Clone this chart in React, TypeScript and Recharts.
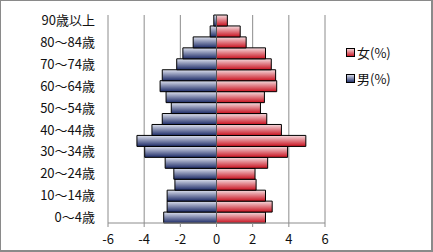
import { Bar, BarChart, CartesianGrid, ReferenceLine, XAxis, YAxis } from "recharts";

// 年齢階級別の人口構成（%）

const ageGroups = [
  "0～4歳", "5～9歳", "10～14歳", "15～19歳", "20～24歳", "25～29歳", "30～34歳",
  "35～39歳", "40～44歳", "45～49歳", "50～54歳", "55～59歳", "60～64歳", "65～69歳",
  "70～74歳", "75～79歳", "80～84歳", "85～89歳", "90歳以上",
];

// 男はマイナス側に描く
const male = [
  -2.92, -2.73, -2.73, -2.3, -2.36, -2.84, -3.97, -4.4, -3.57, -3.0,
  -2.5, -2.79, -3.12, -3.0, -2.2, -1.86, -1.29, -0.35, -0.15,
];

const female = [
  2.71, 3.08, 2.71, 2.19, 2.13, 2.83, 3.93, 4.94, 3.59, 2.78,
  2.43, 2.65, 3.33, 3.27, 3.03, 2.71, 1.64, 1.31, 0.6,
];

const xTicks = [-6, -4, -2, 0, 2, 4, 6];

const legendItems = [
  { label: "女(%)", fill: "url(#gFemale)" },
  { label: "男(%)", fill: "url(#gMale)" },
];

const data = ageGroups.map((age, i) => ({ age, male: male[i], female: female[i] }));

const font = "'Noto Sans CJK JP', sans-serif";

function LegendBox() {
  return (
    <div style={{ position: "absolute", left: 345, top: 38, fontFamily: font, fontSize: 13, color: "#111" }}>
      {legendItems.map((it) => (
        <div key={it.label} style={{ display: "flex", alignItems: "center", height: 26 }}>
          <svg width={9} height={9} style={{ marginRight: 2 }}>
            <rect x={0.5} y={0.5} width={8} height={8} fill={it.fill} stroke="#000" />
          </svg>
          <span>{it.label}</span>
        </div>
      ))}
    </div>
  );
}

export default function App() {
  return (
    <div
      style={{
        position: "fixed",
        left: 0,
        top: 0,
        width: 433,
        height: 252,
        boxSizing: "border-box",
        borderTop: "1px solid #8a8a8a",
        borderLeft: "1px solid #8a8a8a",
        borderRight: "2px solid #8a8a8a",
        borderBottom: "2px solid #8a8a8a",
        background: "#fff",
        overflow: "hidden",
      }}
    >
      <div style={{ position: "absolute", left: -1, top: -1 }}>
        <BarChart
          width={433}
          height={252}
          data={data}
          layout="vertical"
          stackOffset="sign"
          barCategoryGap={0}
          margin={{ top: 15, right: 108, bottom: 0, left: 0 }}
        >
          <defs>
            <linearGradient id="gMale" x1="0" y1="0" x2="0" y2="1">
              <stop offset="0%" stopColor="#dfe3f0" />
              <stop offset="100%" stopColor="#1c2a66" />
            </linearGradient>
            <linearGradient id="gFemale" x1="0" y1="0" x2="0" y2="1">
              <stop offset="0%" stopColor="#f6dde0" />
              <stop offset="100%" stopColor="#c8101e" />
            </linearGradient>
          </defs>
          <CartesianGrid horizontal={false} stroke="#8c8c8c" />
          <XAxis
            type="number"
            domain={[-6, 6]}
            ticks={xTicks}
            height={29}
            stroke="#8c8c8c"
            tickSize={4}
            tickMargin={8}
            tick={{ fill: "#111", fontSize: 13, fontFamily: font }}
          />
          <YAxis
            type="category"
            dataKey="age"
            reversed
            width={108}
            interval={1}
            axisLine={false}
            tickLine={false}
            tickSize={0}
            tickMargin={13}
            tick={{ fill: "#111", fontSize: 13, fontFamily: font }}
          />
          <ReferenceLine x={0} stroke="#555" />
          <Bar dataKey="male" name="男(%)" stackId="p" fill="url(#gMale)" stroke="#000" strokeWidth={1} isAnimationActive={false} />
          <Bar dataKey="female" name="女(%)" stackId="p" fill="url(#gFemale)" stroke="#000" strokeWidth={1} isAnimationActive={false} />
        </BarChart>
      </div>
      <LegendBox />
    </div>
  );
}
